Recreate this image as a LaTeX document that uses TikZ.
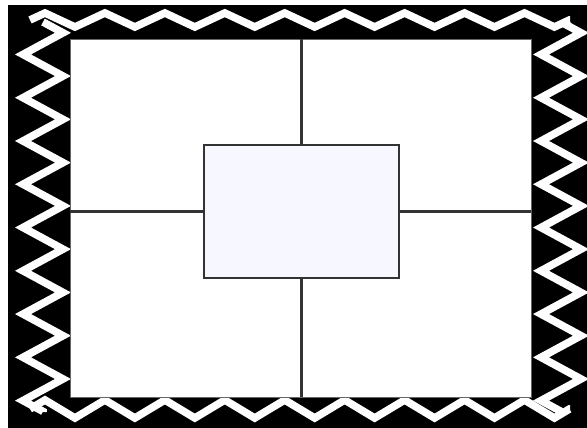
\documentclass[tikz,border=0pt]{standalone}
\usetikzlibrary{decorations.pathmorphing}

\begin{document}
\begin{tikzpicture}[
    x=0.03cm, y=-0.03cm,
    panel/.style={rectangle, draw=black!60, line width=0.8pt, fill=white, inner sep=0pt},
    centerbox/.style={rectangle, draw=black!80, line width=1.8pt, fill=blue!3, inner sep=0pt, minimum width=5.85cm, minimum height=3.99cm},
    divider/.style={draw=black!80, line width=1.8pt},
    zig/.style 2 args={draw=white, line width=6.5pt, line join=miter, decorate, decoration={zigzag, segment length=#1, amplitude=#2}}
]
\useasboundingbox (0,0) rectangle (587,428);

% Black frame with white zigzag border
\fill[black] (8,5) rectangle (587,428);
\draw[zig={1.798cm}{0.21cm}] (30,20) -- (570,20);
\draw[zig={1.798cm}{0.27cm}] (30,409) -- (570,409);
\draw[zig={1.298cm}{0.6cm}] (43,22) -- (43,412);
\draw[zig={1.298cm}{0.6cm}] (561,22) -- (561,412);

% Inner panel and central box
\node[panel, minimum width=13.83cm, minimum height=10.74cm] (panel) at (300.5,218) {};
\node[centerbox] (hub) at (301.5,211.5) {};

\draw[divider] (hub.north) -- (hub.north |- panel.north);
\draw[divider] (hub.south) -- (hub.south |- panel.south);
\draw[divider] (hub.west) -- (hub.west -| panel.west);
\draw[divider] (hub.east) -- (hub.east -| panel.east);

\end{tikzpicture}
\end{document}
